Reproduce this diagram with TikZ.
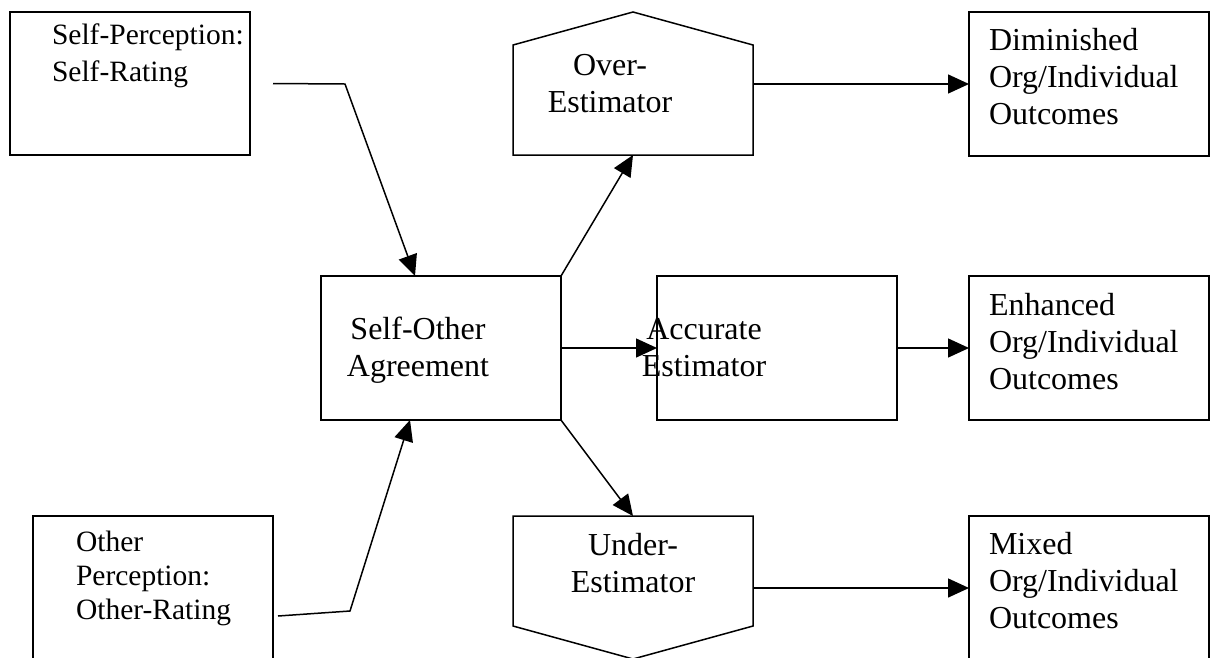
\documentclass[tikz,border=0pt]{standalone}
\usepackage{fontspec}
\setmainfont{Liberation Serif}
\usetikzlibrary{arrows.meta}
\begin{document}
\begin{tikzpicture}[x=1pt,y=-1pt,
  box/.style={draw, line width=1.5pt, inner sep=0pt, outer sep=0pt, anchor=north west},
  shapeline/.style={draw, line width=1.5pt, line join=miter},
  txt/.style={inner sep=0pt, outer sep=0pt, font=\fontsize{32}{37}\selectfont},
  smalltxt/.style={inner sep=0pt, outer sep=0pt, align=left, anchor=base west},
  ltxt/.style={txt, align=left, anchor=base west},
  ctxt/.style={txt, align=center, anchor=base},
  conn/.style={line width=1.5pt, -{Triangle[length=21pt,width=19pt]}}]
\useasboundingbox (0,0) rectangle (1215,657);
\clip (0,0) rectangle (1215,657);
% boxes
\node[box, minimum width=240pt, minimum height=143pt] (sp) at (10,12) {};
\node[box, minimum width=240pt, minimum height=200pt] (op) at (33,516) {};
\node[box, minimum width=240pt, minimum height=144pt] (so) at (321,276) {};
\node[box, minimum width=240pt, minimum height=144pt] (acc) at (657,276) {};
\node[box, minimum width=240pt, minimum height=144pt] (dim) at (969,12) {};
\node[box, minimum width=240pt, minimum height=144pt] (enh) at (969,276) {};
\node[box, minimum width=240pt, minimum height=160pt] (mix) at (969,516) {};
% pentagons
\draw[shapeline] (513,155) -- (513,45) -- (633,12) -- (753,45) -- (753,155) -- cycle;
\coordinate (overB) at (633,155);
\coordinate (overR) at (753,84);
\draw[shapeline] (513,516) -- (753,516) -- (753,626) -- (633,659) -- (513,626) -- cycle;
\coordinate (underT) at (633,516);
\coordinate (underR) at (753,588);
% texts (anchored at the baseline of the last line)
\node[smalltxt, font=\fontsize{29.5}{37}\selectfont] (tsp) at (52,81) {Self-Perception:\\Self-Rating};
\node[smalltxt, font=\fontsize{29.5}{34}\selectfont] (top) at (76,619) {Other\\Perception:\\Other-Rating};
\node[ctxt] (tso) at (418,376) {Self-Other\\Agreement};
\node[ctxt] (tacc) at (704,376) {Accurate\\Estimator};
\node[ctxt] (tover) at (610,112) {Over-\\Estimator};
\node[ctxt] (tunder) at (633,592) {Under-\\Estimator};
\node[ltxt] (tdim) at (989,124) {Diminished\\Org/Individual\\Outcomes};
\node[ltxt] (tenh) at (989,389) {Enhanced\\Org/Individual\\Outcomes};
\node[ltxt] (tmix) at (989,628) {Mixed\\Org/Individual\\Outcomes};
% connectors
\coordinate (spout) at ([xshift=23pt]sp.east);
\coordinate (spbend) at (345,84);
\draw[conn] (spout) -- (spbend) -- ([xshift=94pt]so.north west);
\coordinate (opout) at ([xshift=5pt]op.east);
\coordinate (opbend) at (350,611);
\draw[conn] (opout) -- (opbend) -- ([xshift=89pt]so.south west);
\draw[conn] (so.north east) -- (overB);
\draw[conn] (so.east) -- (acc.west);
\draw[conn] (so.south east) -- (underT);
\draw[conn] (overR) -- (overR -| dim.west);
\draw[conn] (acc.east) -- (enh.west);
\draw[conn] (underR) -- (underR -| mix.west);
\end{tikzpicture}
\end{document}
